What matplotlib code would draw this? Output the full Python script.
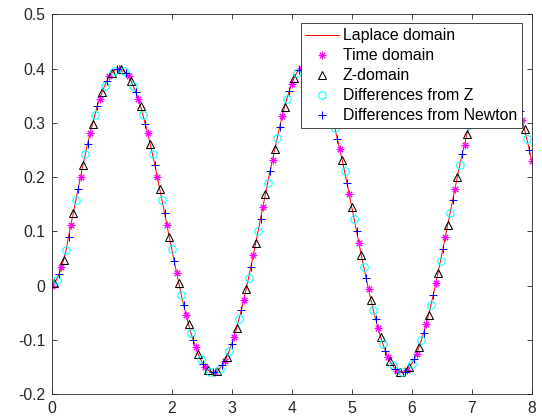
import matplotlib
matplotlib.use("Agg")
import matplotlib.pyplot as plt
import numpy as np

plt.rcParams['font.family'] = ['Liberation Sans', 'DejaVu Sans']

# sample spacing of the simulation grid (s)
dt = 0.04

# response, one value every dt from t = 0 to t = 8
response = [
    0.000, 0.004, 0.011, 0.021, 0.034, 0.048, 0.066, 0.090, 0.112, 0.134,
    0.157, 0.179, 0.200, 0.222, 0.242, 0.262, 0.281, 0.298, 0.315, 0.331,
    0.345, 0.357, 0.368, 0.378, 0.386, 0.392, 0.396, 0.399, 0.400, 0.399,
    0.396, 0.392, 0.386, 0.378, 0.368, 0.357, 0.345, 0.331, 0.315, 0.298,
    0.281, 0.262, 0.242, 0.222, 0.200, 0.179, 0.157, 0.134, 0.112, 0.090,
    0.067, 0.046, 0.024, 0.004, -0.017, -0.036, -0.054, -0.071, -0.087, -0.101,
    -0.114, -0.126, -0.136, -0.144, -0.150, -0.155, -0.159, -0.160, -0.160, -0.157,
    -0.153, -0.147, -0.140, -0.131, -0.120, -0.108, -0.094, -0.079, -0.062, -0.045,
    -0.026, -0.007, 0.014, 0.035, 0.056, 0.078, 0.101, 0.123, 0.145, 0.168,
    0.190, 0.211, 0.232, 0.252, 0.273, 0.293, 0.312, 0.329, 0.345, 0.359,
    0.372, 0.383, 0.392, 0.398, 0.402, 0.404, 0.404, 0.403, 0.400, 0.396,
    0.390, 0.383, 0.374, 0.364, 0.352, 0.338, 0.323, 0.307, 0.290, 0.271,
    0.252, 0.232, 0.211, 0.190, 0.168, 0.145, 0.123, 0.101, 0.078, 0.056,
    0.035, 0.014, -0.007, -0.026, -0.045, -0.062, -0.079, -0.094, -0.108, -0.120,
    -0.131, -0.140, -0.147, -0.153, -0.157, -0.160, -0.160, -0.159, -0.155, -0.150,
    -0.144, -0.136, -0.126, -0.114, -0.101, -0.087, -0.071, -0.054, -0.036, -0.017,
    0.004, 0.024, 0.046, 0.067, 0.090, 0.112, 0.134, 0.157, 0.179, 0.200,
    0.222, 0.242, 0.260, 0.279, 0.297, 0.314, 0.330, 0.344, 0.357, 0.369,
    0.379, 0.387, 0.394, 0.398, 0.402, 0.403, 0.402, 0.400, 0.396, 0.391,
    0.383, 0.374, 0.363, 0.351, 0.337, 0.322, 0.306, 0.288, 0.270, 0.250,
    0.230,
]

series_names = ["Laplace domain", "Time domain", "Z-domain",
                "Differences from Z", "Differences from Newton"]

x_ticks = [0, 2, 3, 4, 5, 6, 7, 8]
x_tick_labels = ["0", "2", "3", "4", "5", "6", "7", "8"]
y_ticks = [-0.2, -0.1, 0, 0.1, 0.2, 0.3, 0.4, 0.5]
y_tick_labels = ["-0.2", "-0.1", "0", "0.1", "0.2", "0.3", "0.4", "0.5"]

t = np.arange(len(response)) * dt
y = np.array(response)

W, H = 542, 419
fig = plt.figure(figsize=(W / 100, H / 100), dpi=100)
left, right, top, bottom = 51.7, 531.7, 14.5, 394.0
ax = fig.add_axes([left / W, 1 - bottom / H, (right - left) / W, (bottom - top) / H])

dark = '#262626'
ms = 5.4
mew = 0.75
ax.plot(t, y, color='red', lw=0.7, label=series_names[0])
ax.plot(t[0::4], y[0::4], ls='none', marker=(8, 2, 0), ms=ms, mew=mew,
        color='magenta', label=series_names[1])
ax.plot(t[1::4], y[1::4], ls='none', marker='^', ms=ms, mew=mew,
        mfc='none', mec='black', label=series_names[2])
ax.plot(t[2::4], y[2::4], ls='none', marker='o', ms=ms, mew=mew,
        mfc='none', mec='cyan', label=series_names[3])
ax.plot(t[3::4], y[3::4], ls='none', marker='+', ms=ms + 0.8, mew=mew,
        color='blue', label=series_names[4])

ax.set_xlim(0, 8)
ax.set_ylim(-0.2, 0.5)
ax.set_xticks(x_ticks)
ax.set_xticklabels(x_tick_labels)
ax.set_yticks(y_ticks)
ax.set_yticklabels(y_tick_labels)

for s in ax.spines.values():
    s.set_color(dark)
    s.set_linewidth(0.6)
ax.tick_params(direction='in', length=3.4, width=0.6, top=True, right=True,
               labelsize=11.3, colors=dark, labelcolor=dark)
ax.tick_params(axis='y', pad=4.6)
ax.tick_params(axis='x', pad=5.3)

leg = ax.legend(loc='upper right', bbox_to_anchor=(521.7 / W, 1 - 23.3 / H),
                bbox_transform=fig.transFigure, borderaxespad=0, fontsize=11.4,
                frameon=True, fancybox=False, framealpha=1, borderpad=0.3,
                handlelength=2.1, handletextpad=0.25, labelspacing=0.32,
                numpoints=1)
leg.get_frame().set_edgecolor(dark)
leg.get_frame().set_linewidth(0.6)
for txt in leg.get_texts():
    txt.set_color('black')

fig.savefig('out.png', dpi=100)
